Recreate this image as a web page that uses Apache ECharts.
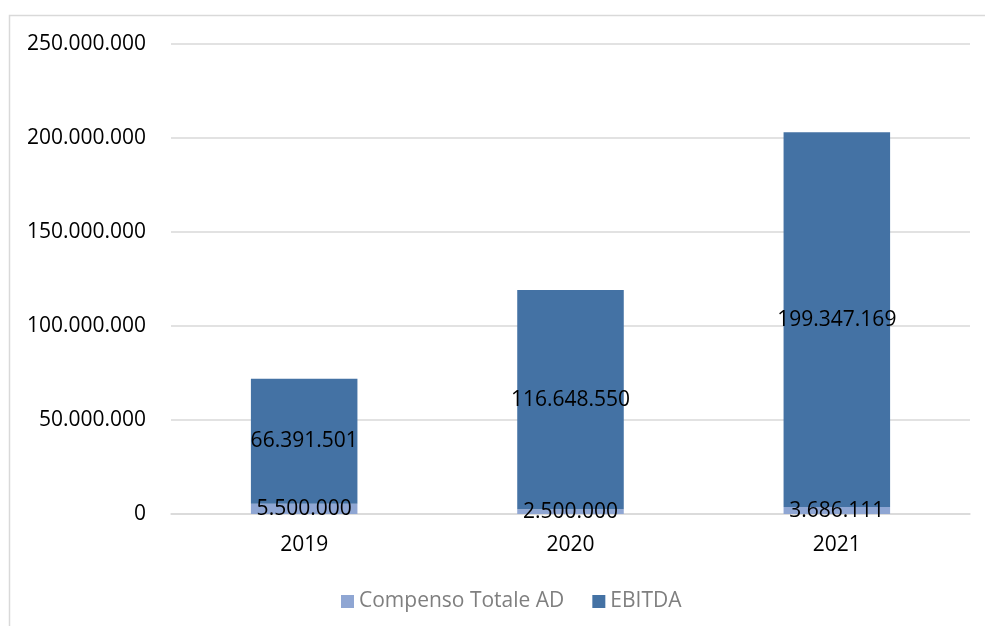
<!DOCTYPE html>
<html>
<head>
<meta charset="utf-8">
<script src="https://cdn.jsdelivr.net/npm/echarts@6/dist/echarts.min.js"></script>
<style>
  html, body { margin: 0; padding: 0; background: #fff; }
  #chart { width: 985px; height: 626px; }
</style>
</head>
<body>
<div id="chart"></div>
<script>
const categories = ['2019', '2020', '2021'];
const compensoTotaleAD = [5500000, 2500000, 3686111];
const ebitda = [66391501, 116648550, 199347169];
const yTicks = { min: 0, max: 250000000, interval: 50000000 };

function fmt(v) {
  return String(Math.round(v)).replace(/\B(?=(\d{3})+(?!\d))/g, '.');
}

const FONT = 'Open Sans';
const FS = 21;
const chart = echarts.init(document.getElementById('chart'));

chart.setOption({
  animation: false,
  textStyle: { fontFamily: FONT },
  graphic: [{
    type: 'rect',
    shape: { x: 9.5, y: 15.5, width: 1000, height: 700 },
    style: { fill: 'none', stroke: '#d9d9d9', lineWidth: 1.5 },
    silent: true
  }],
  grid: { left: 171, right: 15, top: 44, bottom: 112 },
  legend: {
    top: 586,
    left: 336,
    itemWidth: 13,
    itemHeight: 13,
    itemGap: 28,
    icon: 'rect',
    textStyle: { color: '#7f7f7f', fontSize: FS, fontFamily: FONT },
    data: ['Compenso Totale AD', 'EBITDA']
  },
  xAxis: {
    type: 'category',
    data: categories,
    axisTick: { show: false },
    axisLine: { lineStyle: { color: '#d9d9d9', width: 1.5 } },
    axisLabel: { color: '#000', fontSize: FS, margin: 21, fontFamily: FONT }
  },
  yAxis: {
    type: 'value',
    min: yTicks.min,
    max: yTicks.max,
    interval: yTicks.interval,
    axisLine: { show: false },
    axisTick: { show: false },
    splitLine: { lineStyle: { color: '#d9d9d9', width: 1.5 } },
    axisLabel: { color: '#000', fontSize: FS, margin: 25, fontFamily: FONT, formatter: fmt }
  },
  series: [
    {
      name: 'Compenso Totale AD',
      type: 'bar',
      stack: 'tot',
      barWidth: '40%',
      data: compensoTotaleAD,
      itemStyle: { color: '#8fa6d3' },
      label: {
        show: true, position: 'inside', color: '#000', fontSize: FS, fontFamily: FONT,
        formatter: p => fmt(p.value)
      }
    },
    {
      name: 'EBITDA',
      type: 'bar',
      stack: 'tot',
      barWidth: '40%',
      data: ebitda,
      itemStyle: { color: '#4472a4' },
      label: {
        show: true, position: 'inside', color: '#000', fontSize: FS, fontFamily: FONT,
        formatter: p => fmt(p.value)
      }
    }
  ]
});
</script>
</body>
</html>
